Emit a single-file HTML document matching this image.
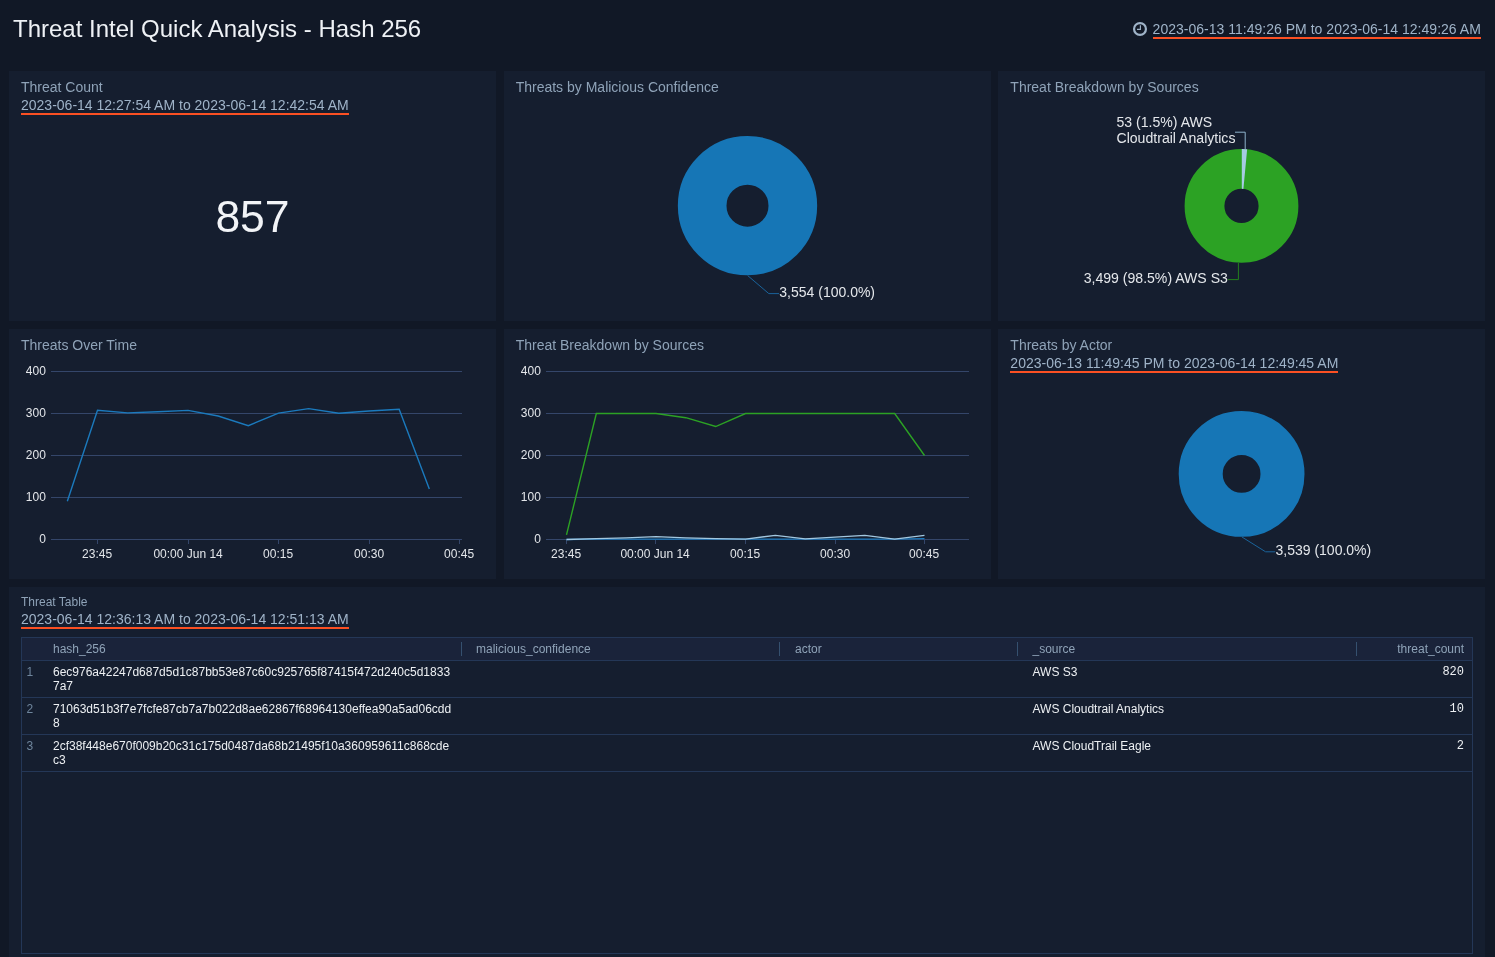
<!DOCTYPE html>
<html>
<head>
<meta charset="utf-8">
<title>Threat Intel Quick Analysis - Hash 256</title>
<style>
*{box-sizing:border-box;margin:0;padding:0}
html,body{width:1495px;height:957px;overflow:hidden;background:#111826;font-family:"Liberation Sans",sans-serif;}
body{position:relative}
#root{position:absolute;left:0;top:0;width:1495px;height:957px;overflow:hidden;will-change:transform}
.abs{position:absolute}
#title{position:absolute;left:13px;top:15px;font-size:24px;line-height:28px;color:#eef1f5;white-space:nowrap}
#hdr-time{position:absolute;right:14.18px;top:21px;height:18px;white-space:nowrap;line-height:16px;font-size:14px}
.tr{font-size:14px;line-height:16px;color:#9fb3c8;border-bottom:2px solid #fb5023;display:block;white-space:nowrap;height:18px;overflow:hidden}
.panel{position:absolute;background:#151e2f;width:487px;height:250px}
.ptitle{position:absolute;left:12px;top:8px;font-size:14px;line-height:16px;color:#8fa3b8;white-space:nowrap}
.ptime{position:absolute;left:12px;top:26px;height:18px;line-height:16px;font-size:14px}

#tbl{position:absolute;left:21px;top:637px;width:1452px;height:317px;border:1px solid #243757;font-size:12px}
#tbl .hd{position:absolute;left:0;top:0;width:1450px;height:23px;background:#1a233a;border-bottom:1px solid #243757;color:#8fa3b8;line-height:22px}
#tbl .hd span{position:absolute;top:0;white-space:nowrap}
#tbl .hd i{position:absolute;top:4px;width:1px;height:14px;background:#35506f}
#tbl .row{position:absolute;left:0;width:1450px;height:37px;border-bottom:1px solid #243757;color:#edf0f3;line-height:14px}
#tbl .row span{position:absolute;top:4px;white-space:nowrap}
#tbl .row .n{left:4.5px;color:#6f869d}
#tbl .row .h{left:31px}
#tbl .row .s{left:1010.5px}
#tbl .row .c{right:8px;font-family:"Liberation Mono",monospace;text-align:right}
svg{position:absolute;left:0;top:0;overflow:visible}
svg text{font-family:"Liberation Sans",sans-serif}
</style>
</head>
<body>
<div id="root">
<div id="title">Threat Intel Quick Analysis - Hash 256</div>
<div id="hdr-time"><span class="tr" style="letter-spacing:0.017px">2023-06-13 11:49:26 PM to 2023-06-14 12:49:26 AM</span></div>

<!-- Row 1 -->
<div class="panel" id="p1" style="left:9px;top:71px;width:487.33px">
  <div class="ptitle">Threat Count</div>
  <div class="ptime"><span class="tr">2023-06-14 12:27:54 AM to 2023-06-14 12:42:54 AM</span></div>
  <div class="abs" id="big" style="left:0;width:487px;top:120px;text-align:center;font-size:44.5px;line-height:52px;color:#f2f4f7">857</div>
</div>
<div class="panel" id="p2" style="left:503.67px;top:71px;width:487.33px">
  <div class="ptitle">Threats by Malicious Confidence</div>
</div>
<div class="panel" id="p3" style="left:998.33px;top:71px;width:487px">
  <div class="ptitle">Threat Breakdown by Sources</div>
</div>

<!-- Row 2 -->
<div class="panel" id="p4" style="left:9px;top:329px;width:487.33px">
  <div class="ptitle">Threats Over Time</div>
</div>
<div class="panel" id="p5" style="left:503.67px;top:329px;width:487.33px">
  <div class="ptitle">Threat Breakdown by Sources</div>
</div>
<div class="panel" id="p6" style="left:998.33px;top:329px;width:487px">
  <div class="ptitle">Threats by Actor</div>
  <div class="ptime"><span class="tr" style="letter-spacing:0.012px">2023-06-13 11:49:45 PM to 2023-06-14 12:49:45 AM</span></div>
</div>

<!-- Row 3 -->
<div class="panel" id="p7" style="left:9px;top:587px;width:1476.3px;height:380px">
  <div class="ptitle" style="font-size:12px;line-height:14px;top:8px">Threat Table</div>
  <div class="ptime" style="top:24px"><span class="tr">2023-06-14 12:36:13 AM to 2023-06-14 12:51:13 AM</span></div>
</div>


<div id="tbl">
  <div class="hd">
    <span style="left:31px">hash_256</span>
    <i style="left:439px"></i><span style="left:454px">malicious_confidence</span>
    <i style="left:757px"></i><span style="left:773px">actor</span>
    <i style="left:995px"></i><span style="left:1010.5px">_source</span>
    <i style="left:1334px"></i><span style="right:8px">threat_count</span>
  </div>
  <div class="row" style="top:23px"><span class="n">1</span><span class="h">6ec976a42247d687d5d1c87bb53e87c60c925765f87415f472d240c5d1833<br>7a7</span><span class="s">AWS S3</span><span class="c">820</span></div>
  <div class="row" style="top:60px"><span class="n">2</span><span class="h">71063d51b3f7e7fcfe87cb7a7b022d8ae62867f68964130effea90a5ad06cdd<br>8</span><span class="s">AWS Cloudtrail Analytics</span><span class="c">10</span></div>
  <div class="row" style="top:97px"><span class="n">3</span><span class="h">2cf38f448e670f009b20c31c175d0487da68b21495f10a360959611c868cde<br>c3</span><span class="s">AWS CloudTrail Eagle</span><span class="c">2</span></div>
</div>

<!-- global overlay SVG for charts (page coordinates) -->
<svg id="ov" width="1495" height="957" viewBox="0 0 1495 957">
<circle cx="1140" cy="29" r="5.95" fill="none" stroke="#9fb3c8" stroke-width="2.2"/>
<polyline points="1140.4,25.2 1140.4,29.35 1137,29.35" fill="none" stroke="#9fb3c8" stroke-width="1.15"/>
<circle cx="747.5" cy="205.7" r="45.33" fill="none" stroke="#1676b6" stroke-width="48.65"/>
<polyline points="747.7,275.6 768.8,293.6 779,293.6" fill="none" stroke="#1a639a" stroke-width="1"/>
<text x="779.3" y="297" font-size="14" fill="#e4e7eb">3,554 (100.0%)</text>
<circle cx="1241.5" cy="205.9" r="37.00" fill="none" stroke="#2ca224" stroke-width="39.80"/>
<path d="M1241.80,149.00 A56.9,56.9 0 0 1 1247.15,149.25 L1243.41,188.88 A17.1,17.1 0 0 0 1241.80,188.80 Z" fill="#a6cbe3"/>
<polyline points="1245.2,149.3 1245.2,132.2 1235,132.2" fill="none" stroke="#8fb2cc" stroke-width="1"/>
<text x="1116.5" y="127" font-size="14.09" fill="#e4e7eb">53 (1.5%) AWS</text>
<text x="1116.5" y="142.5" font-size="14.09" fill="#e4e7eb">Cloudtrail Analytics</text>
<polyline points="1238.4,262.8 1238.4,279.6 1227.8,279.6" fill="none" stroke="#237f1e" stroke-width="1"/>
<text x="1227.9" y="282.6" font-size="14.09" fill="#e4e7eb" text-anchor="end">3,499 (98.5%) AWS S3</text>
<circle cx="1241.6" cy="473.9" r="40.90" fill="none" stroke="#1676b6" stroke-width="44.00"/>
<polyline points="1241.8,536.9 1265.6,551.8 1275.2,551.8" fill="none" stroke="#1a639a" stroke-width="1"/>
<text x="1275.5" y="555" font-size="14" fill="#e4e7eb">3,539 (100.0%)</text>
<rect x="51" y="539" width="411" height="1" fill="#34466a"/>
<text x="45.9" y="542.90" font-size="12" fill="#e3e6ea" text-anchor="end">0</text>
<rect x="51" y="497" width="411" height="1" fill="#34466a"/>
<text x="45.9" y="500.90" font-size="12" fill="#e3e6ea" text-anchor="end">100</text>
<rect x="51" y="455" width="411" height="1" fill="#34466a"/>
<text x="45.9" y="458.90" font-size="12" fill="#e3e6ea" text-anchor="end">200</text>
<rect x="51" y="413" width="411" height="1" fill="#34466a"/>
<text x="45.9" y="416.90" font-size="12" fill="#e3e6ea" text-anchor="end">300</text>
<rect x="51" y="371" width="411" height="1" fill="#34466a"/>
<text x="45.9" y="374.90" font-size="12" fill="#e3e6ea" text-anchor="end">400</text>
<rect x="97" y="540" width="1" height="4" fill="#34466a"/>
<text x="97.1" y="557.9" font-size="12" fill="#e3e6ea" text-anchor="middle">23:45</text>
<rect x="188" y="540" width="1" height="4" fill="#34466a"/>
<text x="188.1" y="557.9" font-size="12" fill="#e3e6ea" text-anchor="middle">00:00 Jun 14</text>
<rect x="278" y="540" width="1" height="4" fill="#34466a"/>
<text x="278.1" y="557.9" font-size="12" fill="#e3e6ea" text-anchor="middle">00:15</text>
<rect x="369" y="540" width="1" height="4" fill="#34466a"/>
<text x="369.1" y="557.9" font-size="12" fill="#e3e6ea" text-anchor="middle">00:30</text>
<rect x="459" y="540" width="1" height="4" fill="#34466a"/>
<text x="459.1" y="557.9" font-size="12" fill="#e3e6ea" text-anchor="middle">00:45</text>
<polyline points="67.33,501.28 97.50,410.35 127.66,412.87 157.83,411.82 188.00,410.35 218.16,416.02 248.33,425.68 278.50,413.08 308.66,408.67 338.83,413.29 369.00,410.98 399.16,409.30 429.33,488.89" fill="none" stroke="#1b7abd" stroke-width="1.4" stroke-linejoin="miter"/>
<rect x="546" y="539" width="423" height="1" fill="#34466a"/>
<text x="540.9" y="542.90" font-size="12" fill="#e3e6ea" text-anchor="end">0</text>
<rect x="546" y="497" width="423" height="1" fill="#34466a"/>
<text x="540.9" y="500.90" font-size="12" fill="#e3e6ea" text-anchor="end">100</text>
<rect x="546" y="455" width="423" height="1" fill="#34466a"/>
<text x="540.9" y="458.90" font-size="12" fill="#e3e6ea" text-anchor="end">200</text>
<rect x="546" y="413" width="423" height="1" fill="#34466a"/>
<text x="540.9" y="416.90" font-size="12" fill="#e3e6ea" text-anchor="end">300</text>
<rect x="546" y="371" width="423" height="1" fill="#34466a"/>
<text x="540.9" y="374.90" font-size="12" fill="#e3e6ea" text-anchor="end">400</text>
<rect x="566" y="540" width="1" height="4" fill="#34466a"/>
<text x="566.1" y="557.9" font-size="12" fill="#e3e6ea" text-anchor="middle">23:45</text>
<rect x="655" y="540" width="1" height="4" fill="#34466a"/>
<text x="655.1" y="557.9" font-size="12" fill="#e3e6ea" text-anchor="middle">00:00 Jun 14</text>
<rect x="745" y="540" width="1" height="4" fill="#34466a"/>
<text x="745.1" y="557.9" font-size="12" fill="#e3e6ea" text-anchor="middle">00:15</text>
<rect x="835" y="540" width="1" height="4" fill="#34466a"/>
<text x="835.1" y="557.9" font-size="12" fill="#e3e6ea" text-anchor="middle">00:30</text>
<rect x="924" y="540" width="1" height="4" fill="#34466a"/>
<text x="924.1" y="557.9" font-size="12" fill="#e3e6ea" text-anchor="middle">00:45</text>
<polyline points="566.50,534.88 596.33,413.50 626.17,413.50 656.00,413.50 685.83,417.70 715.67,426.52 745.50,413.50 775.33,413.50 805.17,413.50 835.00,413.50 864.83,413.50 894.67,413.50 924.50,455.50" fill="none" stroke="#2ca224" stroke-width="1.4" stroke-linejoin="miter"/>
<polyline points="566.50,539.50 596.33,539.08 626.17,539.08 656.00,539.08 685.83,539.08 715.67,539.08 745.50,539.08 775.33,539.08 805.17,539.08 835.00,539.08 864.83,539.08 894.67,539.08 924.50,538.66" fill="none" stroke="#1b7abd" stroke-width="1.4" stroke-linejoin="miter"/>
<polyline points="566.50,539.50 596.33,538.66 626.17,537.82 656.00,536.56 685.83,537.82 715.67,538.66 745.50,539.08 775.33,535.30 805.17,538.87 835.00,537.19 864.83,535.30 894.67,539.08 924.50,535.30" fill="none" stroke="#a3c8e0" stroke-width="1.3" stroke-linejoin="miter"/>
</svg>
</div>
</body>
</html>
